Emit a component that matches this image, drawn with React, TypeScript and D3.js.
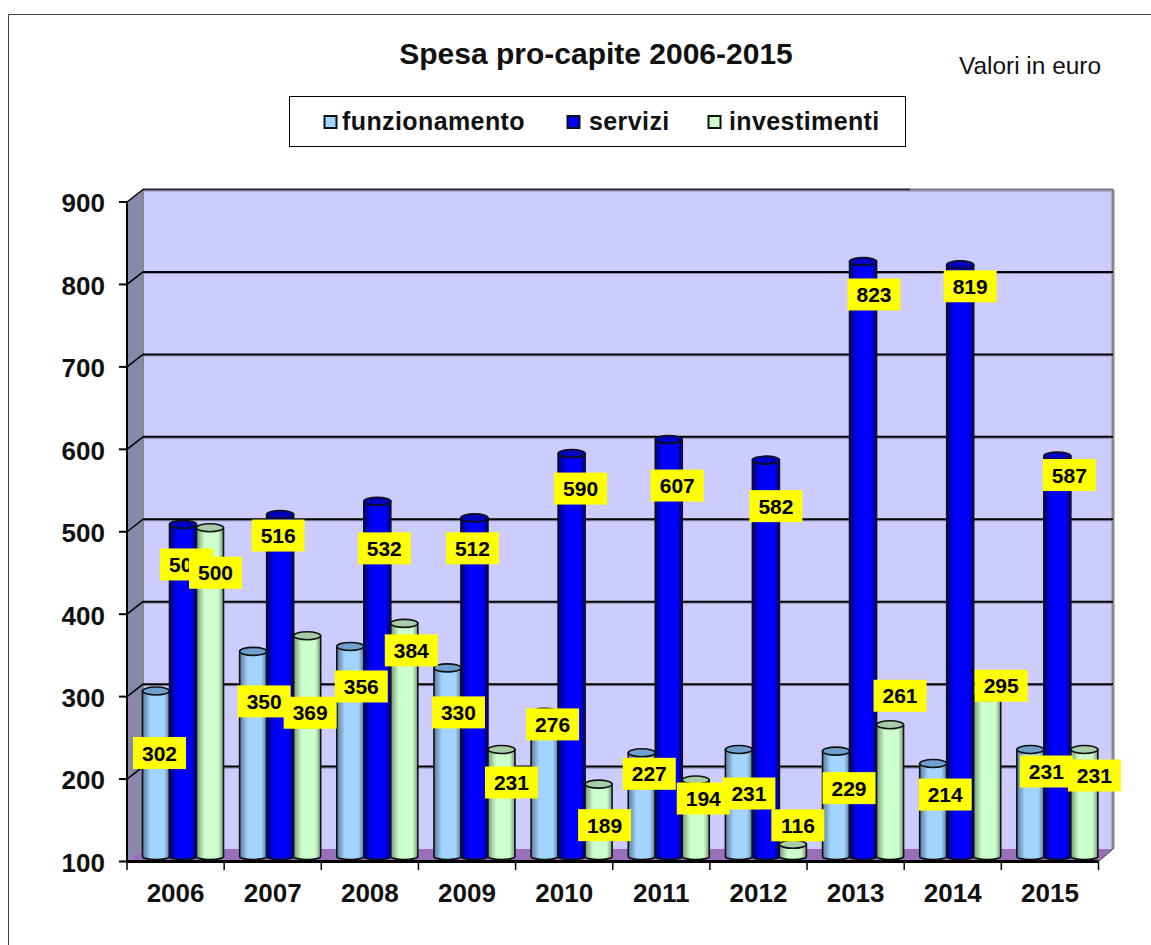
import React from "react";
import { scaleBand, scaleLinear, range } from "d3";

const years = ["2006", "2007", "2008", "2009", "2010", "2011", "2012", "2013", "2014", "2015"];
const funzionamento = [302, 350, 356, 330, 276, 227, 231, 229, 214, 231];
const servizi = [504, 516, 532, 512, 590, 607, 582, 823, 819, 587];
const investimenti = [500, 369, 384, 231, 189, 194, 116, 261, 295, 231];
const yTicks = [100, 200, 300, 400, 500, 600, 700, 800, 900];

// the labels were dragged by hand in the original, offset from each bar top
const funzNudge = [[3.5, 62], [11, 50], [11, 40], [11, 44.5], [8, 12], [7.5, 21], [10, 44], [13, 37], [12, 31], [16, 22]];
const servNudge = [[3.5, 40], [-2, 21], [7, 47], [-2, 30.5], [9, 35], [8.5, 46], [10, 46], [11, 33], [10, 21.5], [12, 19]];
const invNudge = [[5.5, 45], [3, 77], [7, 27], [10, 33], [6, 41], [7.5, 18.5], [5, -19], [10, -29], [14, -11], [10, 26]];

const series = [
  { name: "funzionamento", values: funzionamento, nudge: funzNudge, id: "gFunz", top: "#6f9fcf", edge: "#5a7a99", mid: "#a3d3ff" },
  { name: "servizi", values: servizi, nudge: servNudge, id: "gServ", top: "#0000c0", edge: "#00007a", mid: "#0000ff" },
  { name: "investimenti", values: investimenti, nudge: invNudge, id: "gInv", top: "#a8cca8", edge: "#7a997a", mid: "#ccffcc" },
];

const font = "'Liberation Sans', Arial, sans-serif";
const width = 1151;
const height = 945;

const depthX = 16;
const depthY = 12.5;
const x0 = 127;
const x1 = 1098.5;
const y = scaleLinear().domain([100, 900]).range([861.5, 202]);
const xBand = scaleBand<string>().domain(years).range([x0, x1]);
const xInner = scaleBand<number>().domain(range(3)).range([15.5, 96.5]);
const barLift = 4;
const ry = 4;

const Cylinder = ({ cx, top, base, w, s }: any) => {
  const l = cx - w / 2;
  const r = cx + w / 2;
  return (
    <g stroke="#111" strokeWidth={1.6}>
      <path
        d={`M${l},${top} L${l},${base - 1} A${w / 2},3 0 0 0 ${r},${base - 1} L${r},${top} Z`}
        fill={`url(#${s.id})`}
      />
      <ellipse cx={cx} cy={top} rx={w / 2} ry={ry} fill={s.top} />
    </g>
  );
};

export default function App() {
  const wallTop = y(900) - depthY;
  const wallBottom = y(100) - depthY;
  const wallRight = x1 + 14.5;
  return (
    <svg
      width={width}
      height={height}
      viewBox={`0 0 ${width} ${height}`}
      style={{ position: "absolute", left: 0, top: 0, background: "#fff", fontFamily: font }}
    >
      <defs>
        {series.map((s) => (
          <linearGradient key={s.id} id={s.id} x1="0" x2="1" y1="0" y2="0">
            <stop offset="0" stopColor={s.edge} />
            <stop offset="0.3" stopColor={s.mid} />
            <stop offset="0.8" stopColor={s.mid} />
            <stop offset="1" stopColor={s.edge} />
          </linearGradient>
        ))}
      </defs>

      {/* frame */}
      <path d={`M8.5,${height} L8.5,14.5 L${width},14.5`} fill="none" stroke="#444" strokeWidth={1} />

      <text x={596} y={64} textAnchor="middle" fontSize={30} fontWeight="bold" fill="#111">
        Spesa pro-capite 2006-2015
      </text>
      <text x={1030} y={74} textAnchor="middle" fontSize={24.4} fill="#111">
        Valori in euro
      </text>

      {/* legend */}
      <rect x={289.5} y={96.5} width={616} height={50} fill="#fff" stroke="#000" />
      {series.map((s, i) => (
        <g key={s.name}>
          <rect
            x={[324.5, 567.5, 708.5][i]}
            y={116}
            width={12}
            height={12}
            fill={s.mid}
            stroke="#111"
            strokeWidth={2}
          />
          <text
            x={[342, 589, 729][i]}
            y={130}
            fontSize={25}
            fontWeight="bold"
            fill="#111"
            letterSpacing={0.4}
          >
            {s.name}
          </text>
        </g>
      ))}

      {/* walls and floor */}
      <polygon
        points={`${x0},${y(900)} ${x0 + depthX},${wallTop} ${x0 + depthX},${wallBottom} ${x0},${y(100)}`}
        fill="#8888aa"
      />
      <rect
        x={x0 + depthX}
        y={wallTop}
        width={wallRight - x0 - depthX}
        height={wallBottom - wallTop}
        fill="#ccccff"
      />
      <line x1={x0 + depthX} x2={x0 + depthX} y1={wallTop} y2={wallBottom} stroke="#888" strokeWidth={2} />
      <line x1={wallRight} x2={wallRight} y1={wallTop} y2={wallBottom} stroke="#888" strokeWidth={3} />
      <line x1={x0 + depthX} x2={wallRight} y1={wallTop} y2={wallTop} stroke="#777" strokeWidth={2} />
      <polygon
        points={`${x0},${y(100)} ${x0 + depthX},${wallBottom} ${wallRight},${wallBottom} ${x1},${y(100)}`}
        fill="#9a6fba"
      />

      {/* gridlines */}
      {yTicks.slice(1).map((t) => (
        <g key={t} fill="none">
          <line x1={x0 + depthX} x2={wallRight} y1={y(t) - depthY + 1.5} y2={y(t) - depthY + 1.5} stroke="#8888aa" strokeWidth={1} />
          {t < 900 && (
            <line x1={x0 + depthX} x2={wallRight} y1={y(t) - depthY} y2={y(t) - depthY} stroke="#000" strokeWidth={2} />
          )}
          <line x1={x0} x2={x0 + depthX} y1={y(t)} y2={y(t) - depthY} stroke="#000" strokeWidth={1.5} />
        </g>
      ))}
      <line x1={x0 + depthX} x2={910} y1={wallTop} y2={wallTop} stroke="#222" strokeWidth={1.5} />

      {/* bars */}
      {years.map((yr, i) =>
        series.map((s, k) => (
          <Cylinder
            key={yr + s.name}
            cx={(xBand(yr) as number) + (xInner(k) as number) + xInner.bandwidth() / 2}
            top={y(s.values[i]) - barLift}
            base={y(100) - barLift}
            w={xInner.bandwidth()}
            s={s}
          />
        ))
      )}

      {/* axes */}
      <line x1={x0} x2={x0} y1={y(900)} y2={y(100)} stroke="#000" strokeWidth={2} />
      <line x1={x0} x2={x1} y1={y(100)} y2={y(100)} stroke="#000" strokeWidth={3} />
      <line x1={x1} x2={wallRight} y1={y(100)} y2={wallBottom} stroke="#444" strokeWidth={1} />
      {yTicks.map((t) => (
        <g key={t}>
          <line x1={x0 - 8} x2={x0} y1={y(t)} y2={y(t)} stroke="#000" strokeWidth={2} />
          <text x={105} y={y(t) + 1} dy="0.36em" textAnchor="end" fontSize={26} fontWeight="bold" fill="#111">
            {t}
          </text>
        </g>
      ))}
      {[...years, ""].map((yr, i) => {
        const tx = x0 + i * xBand.step();
        return (
          <g key={i}>
            <line x1={tx} x2={tx} y1={y(100)} y2={870} stroke="#000" strokeWidth={1.5} />
            {yr && (
              <text x={tx + xBand.step() / 2} y={902} textAnchor="middle" fontSize={26} fontWeight="bold" fill="#111">
                {yr}
              </text>
            )}
          </g>
        );
      })}

      {/* value labels, year by year so later boxes cover earlier ones */}
      {years.map((yr, i) =>
        series.map((s, k) => {
          const cx = (xBand(yr) as number) + (xInner(k) as number) + xInner.bandwidth() / 2 + s.nudge[i][0];
          const cy = y(s.values[i]) - barLift + s.nudge[i][1];
          return (
            <g key={yr + s.name}>
              <rect x={cx - 26.5} y={cy - 16} width={53} height={32} fill="#ffff00" />
              <text x={cx} y={cy} dy="0.36em" textAnchor="middle" fontSize={21} fontWeight="bold" fill="#000">
                {s.values[i]}
              </text>
            </g>
          );
        })
      )}
    </svg>
  );
}
